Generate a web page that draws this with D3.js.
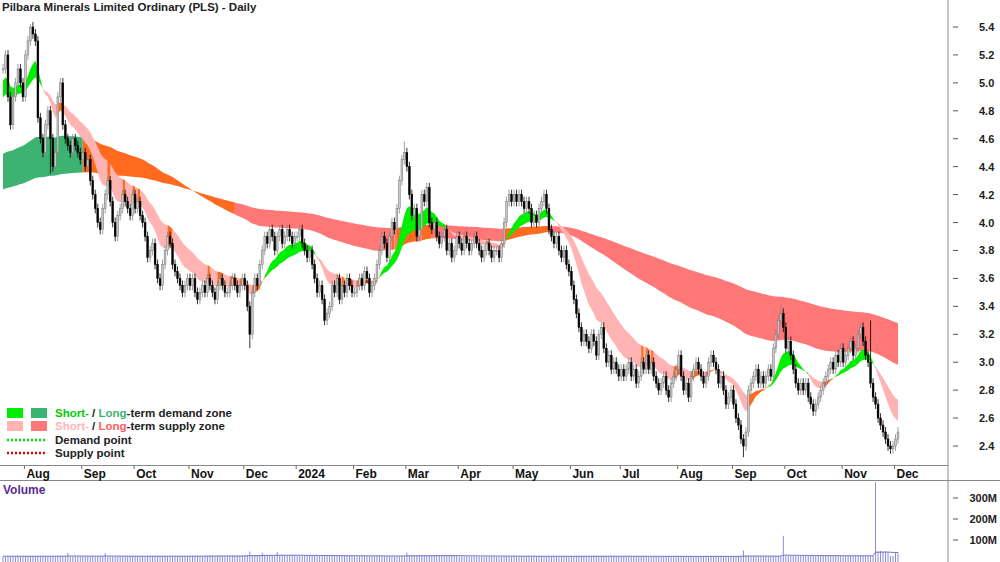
<!DOCTYPE html>
<html><head><meta charset="utf-8">
<script src="https://cdn.jsdelivr.net/npm/d3@7"></script>
<style>body{margin:0;background:#fff}svg{font-family:Arial,"Liberation Sans",sans-serif}</style>
</head><body><svg id="c" width="1000" height="562"></svg>
<script>
// daily closes, one array per month (weekdays only)
const closesByMonth = {
  "2023-07": [5.1,5.2,4.9,4.7,4.9,5.0,5.1,5.0,4.9],
  "2023-08": [5.2,5.3,5.4,5.35,5.3,4.75,4.6,4.5,4.7,4.8,4.6,4.4,4.5,4.9,5.0,4.7,4.6,4.55,4.5,4.6,4.55,4.5,4.45],
  "2023-09": [4.5,4.4,4.45,4.3,4.2,4.1,4.0,3.95,4.1,4.2,4.3,4.15,4.0,3.9,4.05,4.1,4.2,4.15,4.1,4.05,4.2],
  "2023-10": [4.1,4.15,4.05,4.0,3.9,3.75,3.8,3.85,3.7,3.6,3.55,3.7,3.8,3.9,3.85,3.7,3.65,3.6,3.55,3.5,3.55,3.6],
  "2023-11": [3.55,3.6,3.5,3.45,3.5,3.55,3.5,3.6,3.55,3.5,3.45,3.55,3.6,3.55,3.5,3.5,3.55,3.6,3.55,3.5,3.55,3.6],
  "2023-12": [3.55,3.4,3.2,3.5,3.6,3.55,3.7,3.8,3.9,3.85,3.95,3.9,3.8,3.9,3.95,3.85,3.9,3.95,3.9,3.85,3.9],
  "2024-01": [3.9,3.95,3.85,3.8,3.75,3.8,3.7,3.6,3.5,3.55,3.45,3.3,3.35,3.4,3.55,3.5,3.6,3.45,3.55,3.5,3.6,3.55,3.5],
  "2024-02": [3.5,3.55,3.6,3.55,3.65,3.6,3.5,3.55,3.6,3.7,3.8,3.9,3.85,3.75,3.9,4.0,3.95,4.1,4.3,4.45,4.5],
  "2024-03": [4.4,4.2,4.05,4.1,3.9,3.95,4.2,4.15,4.25,4.0,3.95,4.0,3.9,3.85,3.9,3.95,3.8,3.85,3.75,3.8,3.9],
  "2024-04": [3.85,3.8,3.9,3.85,3.8,3.85,3.9,3.85,3.8,3.75,3.8,3.85,3.8,3.75,3.8,3.8,3.75,3.85,4.0,4.15,4.2,4.15],
  "2024-05": [4.2,4.15,4.2,4.15,4.1,4.15,4.1,4.0,4.05,4.0,4.1,4.15,4.2,4.1,3.95,3.9,3.85,3.9,3.8,3.75,3.8,3.7,3.65],
  "2024-06": [3.55,3.45,3.35,3.25,3.15,3.2,3.15,3.1,3.2,3.15,3.05,3.2,3.25,3.1,3.0,3.05,2.95,3.0,2.95,2.9],
  "2024-07": [2.95,2.9,2.95,3.0,2.9,2.95,2.85,2.9,3.0,2.95,3.05,2.95,3.0,2.9,2.85,2.8,2.85,2.9,2.8,2.75,2.85,2.9,2.95],
  "2024-08": [3.05,2.9,2.8,2.85,2.75,2.9,2.95,3.0,2.95,2.9,2.85,2.9,3.0,3.05,3.0,2.95,2.85,2.9,2.8,2.7,2.75,2.8],
  "2024-09": [2.7,2.6,2.55,2.45,2.4,2.5,2.8,2.85,2.9,2.95,2.85,2.9,2.85,2.9,2.95,2.9,3.1,3.2,3.3,3.35,3.25],
  "2024-10": [3.1,3.15,3.05,2.95,2.85,2.8,2.85,2.8,2.85,2.75,2.7,2.65,2.7,2.75,2.8,2.85,2.9,2.95,3.0,2.95,3.05,3.0,3.1],
  "2024-11": [3.0,3.05,3.1,3.15,3.05,3.1,3.2,3.25,3.15,3.05,3.0,2.85,2.75,2.7,2.6,2.55,2.5,2.45,2.4,2.38,2.4],
  "2024-12": [2.45,2.5]
};
const startDate = "2023-07-19";
const wick = 0.035;
const wickExtremes = [
  {date:"2023-08-03", high:5.42}, {date:"2023-08-15", low:4.35}, {date:"2023-12-05", low:3.1},
  {date:"2024-02-29", high:4.58}, {date:"2024-09-06", low:2.32}, {date:"2024-09-27", high:3.42},
  {date:"2024-11-18", high:3.3}
];
// volume, millions: typical level per month + spikes
const volumeByMonth = {"2023-07":22,"2023-08":23,"2023-09":22,"2023-10":23,"2023-11":24,"2023-12":28,
  "2024-01":24,"2024-02":23,"2024-03":26,"2024-04":22,"2024-05":22,"2024-06":23,"2024-07":22,
  "2024-08":22,"2024-09":23,"2024-10":24,"2024-11":24,"2024-12":40};
const volumeSpikes = [{date:"2023-08-24",v:38},{date:"2023-09-14",v:38},{date:"2023-12-05",v:45},
  {date:"2023-12-12",v:40},{date:"2023-12-20",v:42},{date:"2024-03-01",v:40},{date:"2024-09-06",v:50},
  {date:"2024-09-30",v:120},{date:"2024-11-20",v:375},{date:"2024-11-21",v:45},{date:"2024-11-22",v:48},
  {date:"2024-11-25",v:44},{date:"2024-11-26",v:46},{date:"2024-11-27",v:42}];
const monthLabels = ["Aug","Sep","Oct","Nov","Dec","2024","Feb","Mar","Apr","May","Jun","Jul","Aug","Sep","Oct","Nov","Dec"];
const priceTicks = [2.4,2.6,2.8,3.0,3.2,3.4,3.6,3.8,4.0,4.2,4.4,4.6,4.8,5.0,5.2,5.4];
const volTicks = [100,200,300];
// zone seeds read at the left edge
const shortSeed = [5.0, 4.88], longSeed = [4.48, 4.23];
const longOrange = ["2023-09-01","2023-11-24"];

const fmt = d3.timeFormat("%Y-%m-%d");
const data = [];
let d = new Date(startDate + "T12:00:00");
Object.keys(closesByMonth).forEach(m => {
  const arr = closesByMonth[m];
  let k = 0;
  while (k < arr.length && fmt(d).slice(0,7) <= m) {
    if (fmt(d).slice(0,7) === m && d.getDay() > 0 && d.getDay() < 6) {
      data.push({date: fmt(d), month: m, c: arr[k]}); k++;
    }
    d = d3.timeDay.offset(d, 1);
  }
  while (fmt(d).slice(0,7) === m) d = d3.timeDay.offset(d, 1);
});
data.forEach((p, i) => {
  p.o = i ? data[i-1].c : p.c;
  p.h = Math.max(p.o, p.c) + wick;
  p.l = Math.min(p.o, p.c) - wick;
  const e = wickExtremes.find(w => w.date === p.date);
  if (e && e.high) p.h = e.high;
  if (e && e.low) p.l = e.low;
  const s = volumeSpikes.find(w => w.date === p.date);
  p.v = s ? s.v : volumeByMonth[p.month];
});
function ema(vals, n, seed) {
  const a = 2 / (n + 1); let e = seed;
  return vals.map(v => (e = e + a * (v - e)));
}
const cl = data.map(p => p.c);
const sF = ema(cl, 13, shortSeed[0]), sS = ema(cl, 28, shortSeed[1]);
const lF = ema(cl, 120, longSeed[0]), lS = ema(cl, 260, longSeed[1]);
const volAvg = ema(data.map(p => p.v), 40, 23);

const svg = d3.select("#c");
const x = d3.scaleLinear().domain([0, data.length - 1]).range([3, 898]);
const y = d3.scaleLinear().domain([2.4, 5.4]).range([446, 27]);
const yv = d3.scaleLinear().domain([0, 300]).range([561, 498]);

svg.append("text").attr("x", 2).attr("y", 11).attr("font-size", 11.5).attr("font-weight", "bold")
  .attr("fill", "#222").text("Pilbara Minerals Limited Ordinary (PLS) - Daily");

// zones
function drawZone(fast, slow, colorOf) {
  const cols = data.map((p, i) => colorOf(i));
  let st = 0;
  for (let i = 1; i <= data.length; i++) {
    if (i === data.length || cols[i] !== cols[st]) {
      const idx = d3.range(st, Math.min(i + 1, data.length));
      svg.append("path").datum(idx).attr("fill", cols[st])
        .attr("d", d3.area().x(j => x(j)).y0(j => y(fast[j])).y1(j => y(slow[j])));
      st = i;
    }
  }
}
drawZone(lF, lS, i => {
  const dt = data[i].date;
  if (dt >= longOrange[0] && dt <= longOrange[1]) return "#ff6a1f";
  if (lF[i] > lS[i]) return "#3cb371";
  return data[i].c > Math.max(lF[i], lS[i]) ? "#ff6a1f" : "#ff7777";
});
drawZone(sF, sS, i => {
  if (sF[i] > sS[i]) return "#00ee00";
  return data[i].c > Math.min(sF[i], sS[i]) ? "#ff6a1f" : "#ffb3b3";
});

// candles
const bw = 1.8;
const cg = svg.append("g");
cg.selectAll("line").data(data).join("line")
  .attr("x1", (p, i) => x(i)).attr("x2", (p, i) => x(i))
  .attr("y1", p => y(p.h)).attr("y2", p => y(p.l))
  .attr("stroke", p => p.c >= p.o ? "#888" : "#000").attr("stroke-width", 0.8);
cg.selectAll("rect").data(data).join("rect")
  .attr("x", (p, i) => x(i) - bw / 2).attr("width", bw)
  .attr("y", p => y(Math.max(p.o, p.c)))
  .attr("height", p => Math.max(1, Math.abs(y(p.o) - y(p.c))))
  .attr("fill", p => p.c >= p.o ? "#c8c8c8" : "#000")
  .attr("stroke", p => p.c >= p.o ? "#777" : "#000").attr("stroke-width", 0.5);

// right price axis
svg.append("line").attr("x1", 948).attr("x2", 948).attr("y1", 0).attr("y2", 562).attr("stroke", "#888");
priceTicks.forEach(t => {
  svg.append("line").attr("x1", 953).attr("x2", 958).attr("y1", y(t)).attr("y2", y(t)).attr("stroke", "#555");
  svg.append("text").attr("x", 979).attr("y", y(t) + 4).attr("font-size", 11).attr("font-weight", "bold")
    .attr("fill", "#222").text(t.toFixed(1));
});

// date strip
svg.append("line").attr("x1", 0).attr("x2", 948).attr("y1", 465.5).attr("y2", 465.5).attr("stroke", "#888");
svg.append("line").attr("x1", 0).attr("x2", 1000).attr("y1", 480.5).attr("y2", 480.5).attr("stroke", "#888");
const firstIdx = [];
data.forEach((p, i) => { if (i && p.month !== data[i-1].month) firstIdx.push(i); });
firstIdx.forEach((i, k) => {
  svg.append("line").attr("x1", x(i) - 1).attr("x2", x(i) - 1).attr("y1", 466).attr("y2", 469).attr("stroke", "#666");
  svg.append("text").attr("x", x(i) + 1).attr("y", 478).attr("font-size", 12).attr("font-weight", "bold")
    .attr("fill", "#111").text(monthLabels[k]);
});

// volume
svg.append("text").attr("x", 3).attr("y", 494).attr("font-size", 12).attr("font-weight", "bold")
  .attr("fill", "#5b2c91").text("Volume");
svg.append("g").selectAll("line").data(data).join("line")
  .attr("x1", (p, i) => x(i)).attr("x2", (p, i) => x(i))
  .attr("y1", p => yv(p.v)).attr("y2", 562).attr("stroke", "#8a8ad8").attr("stroke-width", 1);
svg.append("path").datum(volAvg).attr("fill", "none").attr("stroke", "#7070c8").attr("stroke-width", 1)
  .attr("d", d3.line().x((v, i) => x(i)).y(v => yv(v)));
volTicks.forEach(t => {
  svg.append("line").attr("x1", 953).attr("x2", 958).attr("y1", yv(t)).attr("y2", yv(t)).attr("stroke", "#555");
  svg.append("text").attr("x", 997).attr("y", yv(t) + 4).attr("text-anchor", "end").attr("font-size", 11)
    .attr("font-weight", "bold").attr("fill", "#222").text(t + "M");
});

// legend
const lg = svg.append("g").attr("font-size", 11.5).attr("font-weight", "bold");
[["#00ee00","#3cb371",413,"demand zone"],["#ffb3b3","#ff7777",426,"supply zone"]].forEach(r => {
  lg.append("rect").attr("x", 7).attr("y", r[2] - 5).attr("width", 16).attr("height", 10).attr("fill", r[0]);
  lg.append("rect").attr("x", 31).attr("y", r[2] - 5).attr("width", 16).attr("height", 10).attr("fill", r[1]);
  const t = lg.append("text").attr("x", 55).attr("y", r[2] + 4);
  t.append("tspan").attr("fill", r[0] === "#00ee00" ? "#00cc00" : "#ffb3b3").text("Short-");
  t.append("tspan").attr("fill", "#222").text(" / ");
  t.append("tspan").attr("fill", r[1] === "#3cb371" ? "#3cb371" : "#ff6060").text("Long");
  t.append("tspan").attr("fill", "#222").text("-term " + r[3]);
});
[["#00dd00",440,"Demand point"],["#ee0000",453,"Supply point"]].forEach(r => {
  lg.append("line").attr("x1", 7).attr("x2", 47).attr("y1", r[1]).attr("y2", r[1])
    .attr("stroke", r[0]).attr("stroke-width", 2.5).attr("stroke-dasharray", "2,2");
  lg.append("text").attr("x", 55).attr("y", r[1] + 4).attr("fill", "#222").text(r[2]);
});
</script></body></html>
